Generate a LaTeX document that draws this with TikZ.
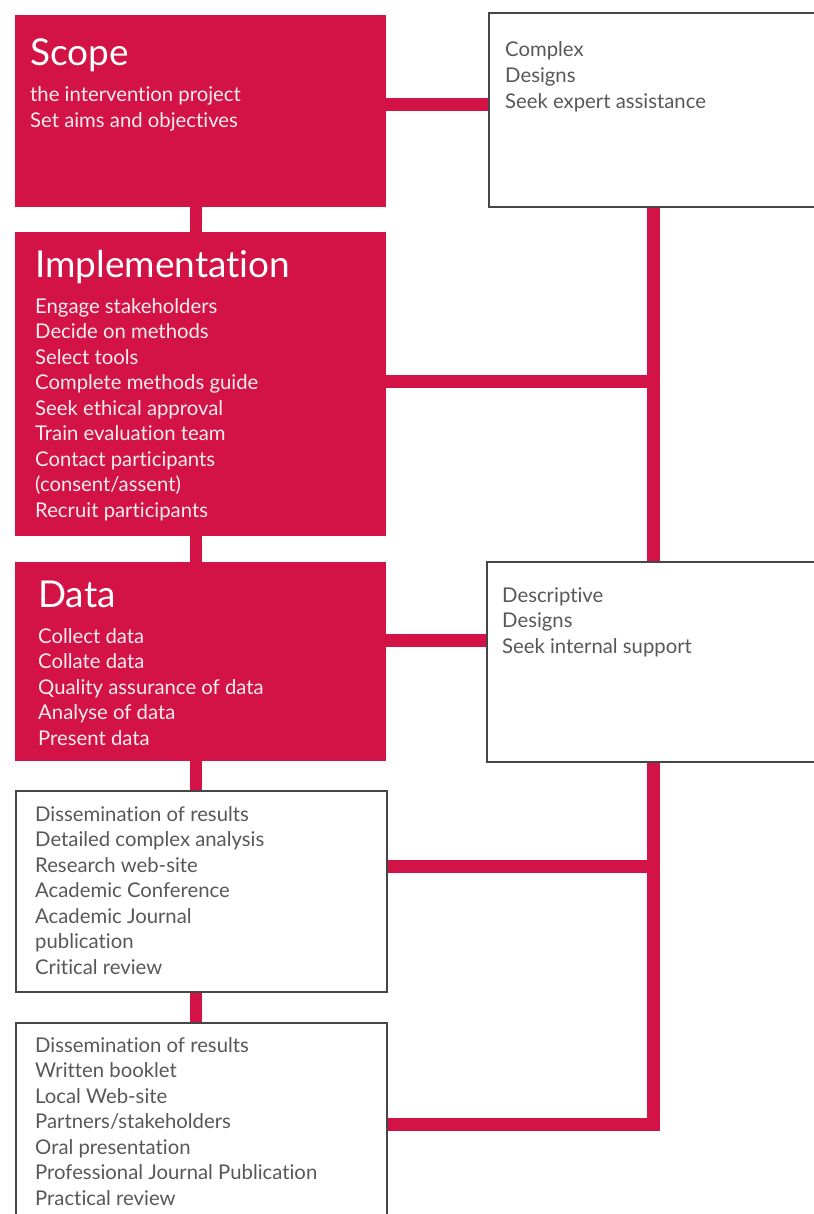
\documentclass[tikz,border=0pt]{standalone}
\usepackage{fontspec}
\setmainfont{Lato}[Ligatures=CommonOff]
\definecolor{brand}{RGB}{211,18,69}
\definecolor{txtgray}{RGB}{88,88,88}
\definecolor{edgegray}{RGB}{70,70,70}
\newcommand{\linelist}[1]{\begin{tabular}[t]{@{}l@{}}#1\end{tabular}}
\begin{document}
\begin{tikzpicture}[x=1pt,y=-1pt,
  redbox/.style={fill=brand,draw=none,anchor=north west,inner sep=0pt},
  whitebox/.style={fill=white,draw=edgegray,line width=1.3pt,anchor=north west,inner sep=0pt},
  conn/.style={draw=brand,line width=13pt,line cap=butt,line join=miter},
  title/.style={anchor=base west,inner sep=0pt,text=white,font=\fontsize{37}{40}\selectfont},
  bodyw/.style={anchor=base west,inner sep=0pt,text=white!92!brand,font=\fontsize{20.3}{25.55}\selectfont},
  bodyg/.style={anchor=base west,inner sep=0pt,text=txtgray,font=\fontsize{20.3}{25.55}\selectfont}]
\useasboundingbox (0,0) rectangle (813,1214);
% spines
\coordinate (ls) at (196,0);
\coordinate (rs) at (653,0);
% boxes
\node[redbox,minimum width=371pt,minimum height=192pt] (scope) at (15,15) {};
\node[redbox,minimum width=371pt,minimum height=304pt] (impl) at (15,232) {};
\node[redbox,minimum width=371pt,minimum height=199pt] (data) at (15,562) {};
\node[whitebox,minimum width=370pt,minimum height=200pt] (diss1) at (16,791) {};
\node[whitebox,minimum width=370pt,minimum height=220pt] (diss2) at (16,1023) {};
\node[whitebox,minimum width=340pt,minimum height=193pt] (complex) at (489,13) {};
\node[whitebox,minimum width=340pt,minimum height=199pt] (desc) at (487,562) {};
% level coordinates
\coordinate (h1) at (0,105);
\coordinate (h2) at (0,381);
\coordinate (h3) at (0,640);
\coordinate (h4) at (0,866);
\coordinate (h5) at (0,1124);
% left spine links
\draw[conn,line width=12pt] (scope.south -| ls) -- (impl.north -| ls);
\draw[conn,line width=12pt] (impl.south -| ls) -- (data.north -| ls);
\draw[conn,line width=12pt] (data.south -| ls) -- (diss1.north -| ls);
\draw[conn,line width=12pt] (diss1.south -| ls) -- (diss2.north -| ls);
% right spine
\draw[conn] (complex.south -| rs) -- (desc.north -| rs);
\draw[conn] (desc.south -| rs) -- (rs |- h5) -- (diss2.east |- h5);
% horizontal links
\draw[conn] (scope.east |- h1) -- (complex.west |- h1);
\draw[conn] (impl.east |- h2) -- (rs |- h2);
\draw[conn] (data.east |- h3) -- (desc.west |- h3);
\draw[conn] (diss1.east |- h4) -- (rs |- h4);
% redraw white box outlines over link ends
\draw[edgegray,line width=1.3pt] (diss1.north west) rectangle (diss1.south east);
\draw[edgegray,line width=1.3pt] (diss2.north west) rectangle (diss2.south east);
\draw[edgegray,line width=1.3pt] (complex.north west) rectangle (complex.south east);
\draw[edgegray,line width=1.3pt] (desc.north west) rectangle (desc.south east);
% texts
\node[title] (tscope) at (30,66) {Scope};
\node[bodyw] (bscope) at (30,102) {\linelist{the intervention project\\Set aims and objectives}};
\node[title] (timpl) at (35,278) {Implementation};
\node[bodyw] (bimpl) at (35,313) {\linelist{Engage stakeholders\\Decide on methods\\Select tools\\Complete methods guide\\Seek ethical approval\\Train evaluation team\\Contact participants\\(consent/assent)\\Recruit participants}};
\node[title] (tdata) at (38,607) {Data};
\node[bodyw] (bdata) at (38,643) {\linelist{Collect data\\Collate data\\Quality assurance of data\\Analyse of data\\Present data}};
\node[bodyg] (bcomplex) at (505,57) {\linelist{Complex\\Designs\\Seek expert assistance}};
\node[bodyg] (bdesc) at (502,602) {\linelist{Descriptive\\Designs\\Seek internal support}};
\node[bodyg] (bdiss1) at (35,821) {\linelist{Dissemination of results\\Detailed complex analysis\\Research web-site\\Academic Conference\\Academic Journal\\publication\\Critical review}};
\node[bodyg] (bdiss2) at (35,1052) {\linelist{Dissemination of results\\Written booklet\\Local Web-site\\Partners/stakeholders\\Oral presentation\\Professional Journal Publication\\Practical review}};
\end{tikzpicture}
\end{document}
